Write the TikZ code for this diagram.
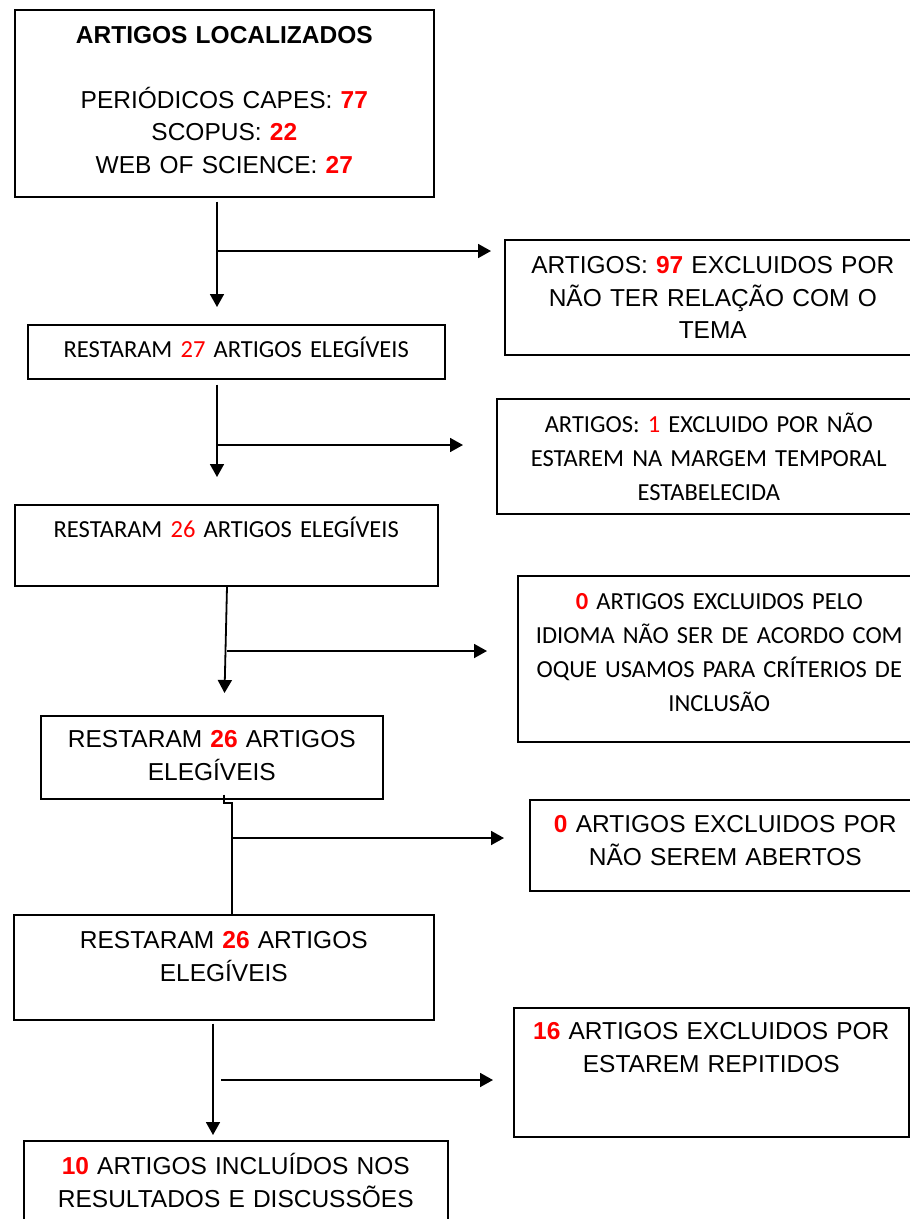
\documentclass[tikz,border=0pt]{standalone}
\usepackage{fontspec}
\setmainfont{Liberation Sans}
\newfontfamily\calibri{Carlito}
\usetikzlibrary{arrows.meta}
\definecolor{numred}{RGB}{255,0,0}
\newcommand{\qtd}[1]{\textcolor{numred}{\textbf{#1}}}
\newcommand{\qtdc}[1]{\textcolor{numred}{#1}}

\begin{document}
\begin{tikzpicture}[x=1pt,y=-1pt]
    \useasboundingbox (0,0) rectangle (910,1219);
    \tikzset{BoxStyle/.style = {%
        draw, line width=1.6pt, inner sep=0pt,
        anchor=north west, align=center,
        font=\fontsize{24.5}{32.5}\selectfont},
      CalStyle/.style = {BoxStyle,
        font=\calibri\fontsize{24.5}{34}\selectfont},
      ArrowStyle/.style = {line width=1.8pt,
        -{Triangle[length=13pt,width=14pt]}},
      LineStyle/.style = {line width=1.8pt}}
    % left column
    \node[BoxStyle, text width=419pt, text height=34pt, text depth=153pt] (loc) at (14,9)
        {\textbf{ARTIGOS LOCALIZADOS}\\[32pt] PERIÓDICOS CAPES: \qtd{77}\\ SCOPUS: \qtd{22}\\ WEB OF SCIENCE: \qtd{27}};
    \node[CalStyle, text width=417pt, text height=33pt, text depth=21pt] (eleg1) at (27,324)
        {RESTARAM \qtdc{27} ARTIGOS ELEGÍVEIS};
    \node[CalStyle, text width=423pt, text height=33pt, text depth=48pt] (eleg2) at (14,504)
        {RESTARAM \qtdc{26} ARTIGOS ELEGÍVEIS};
    \node[BoxStyle, text width=342pt, text height=32pt, text depth=51pt] (eleg3) at (40,715)
        {RESTARAM \qtd{26} ARTIGOS\\ ELEGÍVEIS};
    \node[BoxStyle, text width=420pt, text height=34pt, text depth=71pt] (eleg4) at (13,914)
        {RESTARAM \qtd{26} ARTIGOS\\ ELEGÍVEIS};
    \node[BoxStyle, text width=424pt, text height=34pt, text depth=66pt] (incl) at (23,1140)
        {\qtd{10} ARTIGOS INCLUÍDOS NOS\\ RESULTADOS E DISCUSSÕES};
    % right column
    \node[BoxStyle, text width=416pt, text height=34pt, text depth=81pt] (exc1) at (504,239)
        {ARTIGOS: \qtd{97} EXCLUIDOS POR\\ NÃO TER RELAÇÃO COM O\\ TEMA};
    \node[CalStyle, text width=424pt, text height=34pt, text depth=81pt] (exc2) at (496,398)
        {ARTIGOS: \qtdc{1} EXCLUIDO POR NÃO\\ ESTAREM NA MARGEM TEMPORAL\\ ESTABELECIDA};
    \node[CalStyle, text width=403pt, text height=34pt, text depth=132pt] (exc3) at (517,575)
        {\qtd{0} ARTIGOS EXCLUIDOS PELO\\ IDIOMA NÃO SER DE ACORDO COM\\ OQUE USAMOS PARA CRÍTERIOS DE\\ INCLUSÃO};
    \node[BoxStyle, text width=391pt, text height=33pt, text depth=58pt] (exc4) at (529,799)
        {\qtd{0} ARTIGOS EXCLUIDOS POR\\ NÃO SEREM ABERTOS};
    \node[BoxStyle, text width=395pt, text height=32pt, text depth=97pt] (exc5) at (513,1007)
        {\qtd{16} ARTIGOS EXCLUIDOS POR\\ ESTAREM REPITIDOS};
    % trunks and branches
    \coordinate (t1) at (217,0);
    \coordinate (b1) at (217,251);
    \draw[ArrowStyle, shorten <=4pt, shorten >=17pt] (loc.south -| t1) -- (eleg1.north -| t1);
    \draw[ArrowStyle, shorten >=13pt] (b1) -- (b1 -| exc1.west);
    \coordinate (b2) at (217,445);
    \draw[ArrowStyle, shorten <=5pt, shorten >=27pt] (eleg1.south -| t1) -- (eleg2.north -| t1);
    \draw[ArrowStyle, shorten >=33pt] (b2) -- (b2 -| exc2.west);
    \coordinate (t3a) at (227,0);
    \coordinate (t3b) at (224,0);
    \coordinate (b3) at (227,651);
    \draw[ArrowStyle, shorten >=22pt] (eleg2.south -| t3a) -- (eleg3.north -| t3b);
    \draw[ArrowStyle, shorten >=30pt] (b3) -- (b3 -| exc3.west);
    \coordinate (j4) at (224,803);
    \coordinate (k4) at (232,803);
    \coordinate (b4) at (232,838);
    \draw[LineStyle] ([yshift=5pt]eleg3.south -| j4) -- (j4) -- (k4) -- (k4 |- eleg4.north);
    \draw[ArrowStyle, shorten >=25pt] (b4) -- (b4 -| exc4.west);
    \coordinate (t5) at (213,0);
    \coordinate (b5) at (221,1080);
    \draw[ArrowStyle, shorten <=3pt, shorten >=5pt] (eleg4.south -| t5) -- (incl.north -| t5);
    \draw[ArrowStyle, shorten >=20pt] (b5) -- (b5 -| exc5.west);
\end{tikzpicture}
\end{document}
